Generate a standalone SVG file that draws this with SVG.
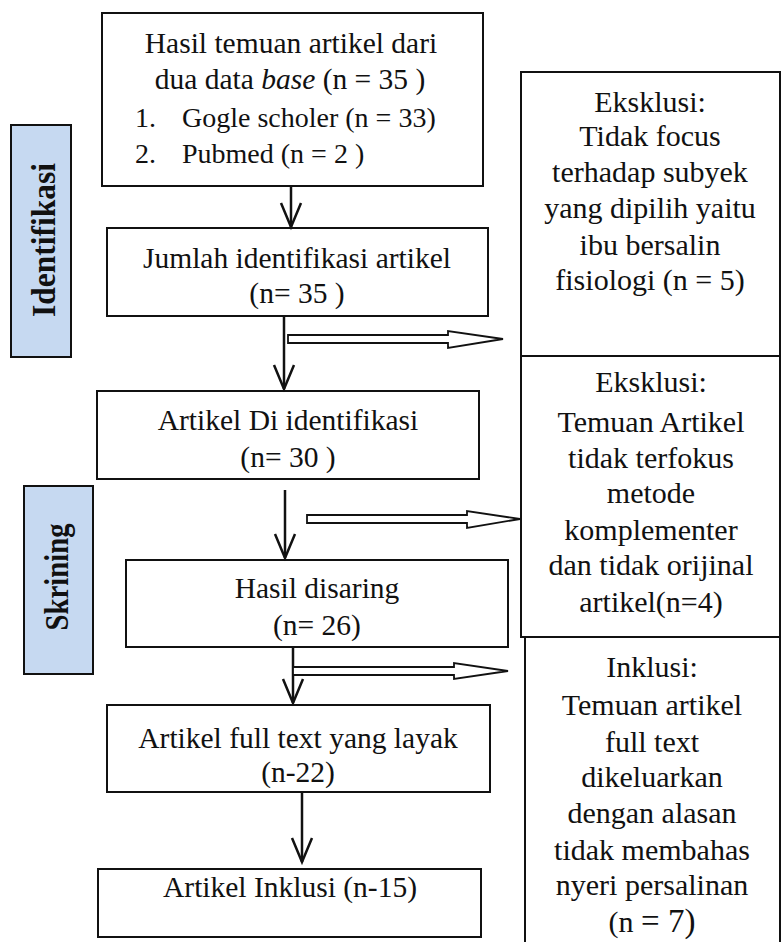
<svg xmlns="http://www.w3.org/2000/svg" width="782" height="942" viewBox="0 0 782 942">
<style>
.box{fill:#fff;stroke:#111;stroke-width:2}
.lbl{fill:#c6d9f1;stroke:#111;stroke-width:2}
.t{font-family:"Liberation Serif","Times New Roman",serif;font-size:29.5px;fill:#111;text-anchor:middle}
.tr{font-family:"Liberation Serif","Times New Roman",serif;font-size:30px;fill:#111;text-anchor:middle}
.tl{font-family:"Liberation Serif","Times New Roman",serif;font-size:28px;fill:#111}
.lt{font-family:"Liberation Serif","Times New Roman",serif;font-size:34px;font-weight:bold;fill:#111;text-anchor:middle}
.ln{stroke:#111;stroke-width:2.5;fill:none}
.hol{fill:#fff;stroke:#111;stroke-width:1.8;stroke-linejoin:miter}
</style>
<defs>
<marker id="v" markerUnits="userSpaceOnUse" markerWidth="30" markerHeight="30" refX="0" refY="0" orient="auto" overflow="visible">
<path d="M-24,-10 L0,0 L-24,10" fill="none" stroke="#111" stroke-width="2.5"/>
</marker>
</defs>

<g id="label-identifikasi">
<rect class="lbl" x="11" y="125" width="60" height="232"/>
<text class="lt" transform="translate(55,240) rotate(-90)" textLength="154" lengthAdjust="spacingAndGlyphs">Identifikasi</text>
</g>
<g id="label-skrining">
<rect class="lbl" x="24" y="486" width="69" height="188"/>
<text class="lt" transform="translate(68,577) rotate(-90)" textLength="107" lengthAdjust="spacingAndGlyphs">Skrining</text>
</g>

<g id="n-hasil-temuan">
<rect class="box" x="102" y="13" width="381" height="173"/>
<text class="t" x="291" y="53">Hasil temuan artikel dari</text>
<text class="t" x="290" y="89">dua data <tspan font-style="italic">base</tspan> (n = 35 )</text>
<text class="tl" x="135" y="127">1.</text>
<text class="tl" x="182" y="127">Gogle scholer (n = 33)</text>
<text class="tl" x="135" y="163">2.</text>
<text class="tl" x="182" y="163">Pubmed (n = 2 )</text>
</g>
<g id="n-jumlah">
<rect class="box" x="107" y="228" width="381" height="88"/>
<text class="t" x="297" y="268">Jumlah identifikasi artikel</text>
<text class="t" x="297" y="303">(n= 35 )</text>
</g>
<g id="n-artikel-di">
<rect class="box" x="97" y="391" width="382" height="88"/>
<text class="t" x="288" y="430">Artikel Di identifikasi</text>
<text class="t" x="288" y="467">(n= 30 )</text>
</g>
<g id="n-hasil-disaring">
<rect class="box" x="126" y="560" width="382" height="87"/>
<text class="t" x="317" y="598">Hasil disaring</text>
<text class="t" x="317" y="635">(n= 26)</text>
</g>
<g id="n-fulltext">
<rect class="box" x="107" y="705" width="383" height="87"/>
<text class="t" x="298" y="748">Artikel full text yang layak</text>
<text class="t" x="298" y="782">(n-22)</text>
</g>
<g id="n-inklusi">
<rect class="box" x="98" y="869" width="383" height="68"/>
<text class="t" x="290" y="897">Artikel Inklusi (n-15)</text>
</g>

<g id="n-eksklusi-1">
<rect class="box" x="521" y="72" width="259" height="284"/>
<text class="tr" x="650" y="112">Eksklusi:</text>
<text class="tr" x="650" y="146">Tidak focus</text>
<text class="tr" x="650" y="182">terhadap subyek</text>
<text class="tr" x="650" y="218">yang dipilih yaitu</text>
<text class="tr" x="650" y="255">ibu bersalin</text>
<text class="tr" x="650" y="290">fisiologi (n = 5)</text>
</g>
<g id="n-eksklusi-2">
<rect class="box" x="521" y="356" width="259" height="281"/>
<text class="tr" x="651" y="392">Eksklusi:</text>
<text class="tr" x="651" y="432">Temuan Artikel</text>
<text class="tr" x="651" y="468">tidak terfokus</text>
<text class="tr" x="651" y="503">metode</text>
<text class="tr" x="651" y="540">komplementer</text>
<text class="tr" x="651" y="575">dan tidak orijinal</text>
<text class="tr" x="651" y="612">artikel(n=4)</text>
</g>
<g id="n-inklusi-kanan">
<rect class="box" x="525" y="637" width="255" height="320"/>
<text class="tr" x="652" y="677">Inklusi:</text>
<text class="tr" x="652" y="715">Temuan artikel</text>
<text class="tr" x="652" y="752">full text</text>
<text class="tr" x="652" y="787">dikeluarkan</text>
<text class="tr" x="652" y="823">dengan alasan</text>
<text class="tr" x="652" y="860">tidak membahas</text>
<text class="tr" x="652" y="895">nyeri persalinan</text>
<text class="tr" x="652" y="932">(n <tspan font-size="33">= 7)</tspan></text>
</g>

<g id="connectors">
<line class="ln" x1="291" y1="186" x2="291" y2="227" marker-end="url(#v)"/>
<line class="ln" x1="284" y1="316" x2="284" y2="389" marker-end="url(#v)"/>
<line class="ln" x1="285" y1="490" x2="285" y2="558" marker-end="url(#v)"/>
<line class="ln" x1="293" y1="647" x2="293" y2="703" marker-end="url(#v)"/>
<line class="ln" x1="302" y1="792" x2="302" y2="862" marker-end="url(#v)"/>
<polygon class="hol" points="288,335 448,335 448,331 503,339 448,348 448,343 288,343"/>
<polygon class="hol" points="307,515 467,515 467,511 520,519 467,528 467,523 307,523"/>
<polygon class="hol" points="293,667 454,667 454,663 508,671 454,679 454,675 293,675"/>
</g>
</svg>
